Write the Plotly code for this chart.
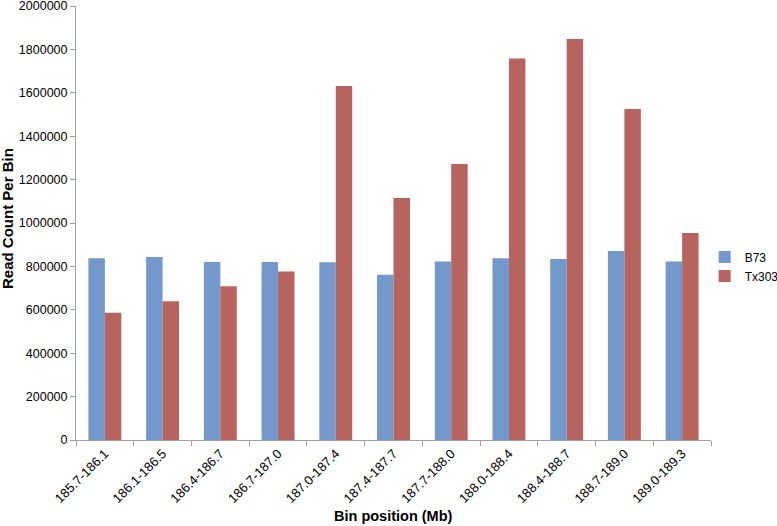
import plotly.graph_objects as go

bins = ["185.7-186.1", "186.1-186.5", "186.4-186.7", "186.7-187.0", "187.0-187.4",
        "187.4-187.7", "187.7-188.0", "188.0-188.4", "188.4-188.7", "188.7-189.0",
        "189.0-189.3"]
b73 = [838000, 843000, 820000, 820000, 819000, 762000, 823000, 838000, 834000, 871000, 823000]
tx303 = [586000, 639000, 709000, 777000, 1631000, 1115000, 1272000, 1758000, 1848000, 1525000, 954000]
y_ticks = [0, 200000, 400000, 600000, 800000, 1000000, 1200000, 1400000, 1600000, 1800000, 2000000]

fig = go.Figure()
fig.add_trace(go.Bar(x=bins, y=b73, name="B73", marker=dict(color="#7398CB", line=dict(width=0))))
fig.add_trace(go.Bar(x=bins, y=tx303, name="Tx303", marker=dict(color="#B8645E", line=dict(width=0))))

fig.update_layout(
    width=777, height=526,
    margin=dict(l=76, r=66, t=6, b=86, autoexpand=False),
    paper_bgcolor="white", plot_bgcolor="white",
    barmode="group", bargap=0.43, bargroupgap=0,
    font=dict(family="Liberation Sans, Arial, sans-serif", size=13, color="black"),
    legend=dict(x=0.99, xanchor="left", y=0.40, yanchor="middle",
                font=dict(size=12), itemwidth=30, tracegroupgap=10,
                bgcolor="rgba(0,0,0,0)"),
    xaxis=dict(
        type="category", tickangle=-45, tickson="boundaries",
        ticks="outside", ticklen=5, tickcolor="#A0A0A0",
        showline=True, linecolor="#A0A0A0", linewidth=1,
        showgrid=False, tickfont=dict(size=13), automargin=False,
    ),
    yaxis=dict(
        range=[0, 2000000], tickvals=y_ticks, tickformat="d",
        ticks="outside", ticklen=5, tickcolor="#A0A0A0",
        showline=True, linecolor="#A0A0A0", linewidth=1,
        showgrid=False, zeroline=False, tickfont=dict(size=12.5),
        automargin=False, ticklabeloverflow="allow",
    ),
    annotations=[
        dict(text="<b>Bin position (Mb)</b>", xref="paper", yref="paper",
             x=0.5, y=0, yshift=-76, xanchor="center", yanchor="middle",
             showarrow=False, font=dict(size=14.5)),
        dict(text="<b>Read Count Per Bin</b>", xref="paper", yref="paper",
             x=0, xshift=-69, y=0.5, yshift=4, xanchor="center", yanchor="middle",
             textangle=-90, showarrow=False, font=dict(size=15)),
    ],
)

fig.write_html("out.html", config={"displayModeBar": False},
               post_script="document.body.style.margin='0';")
